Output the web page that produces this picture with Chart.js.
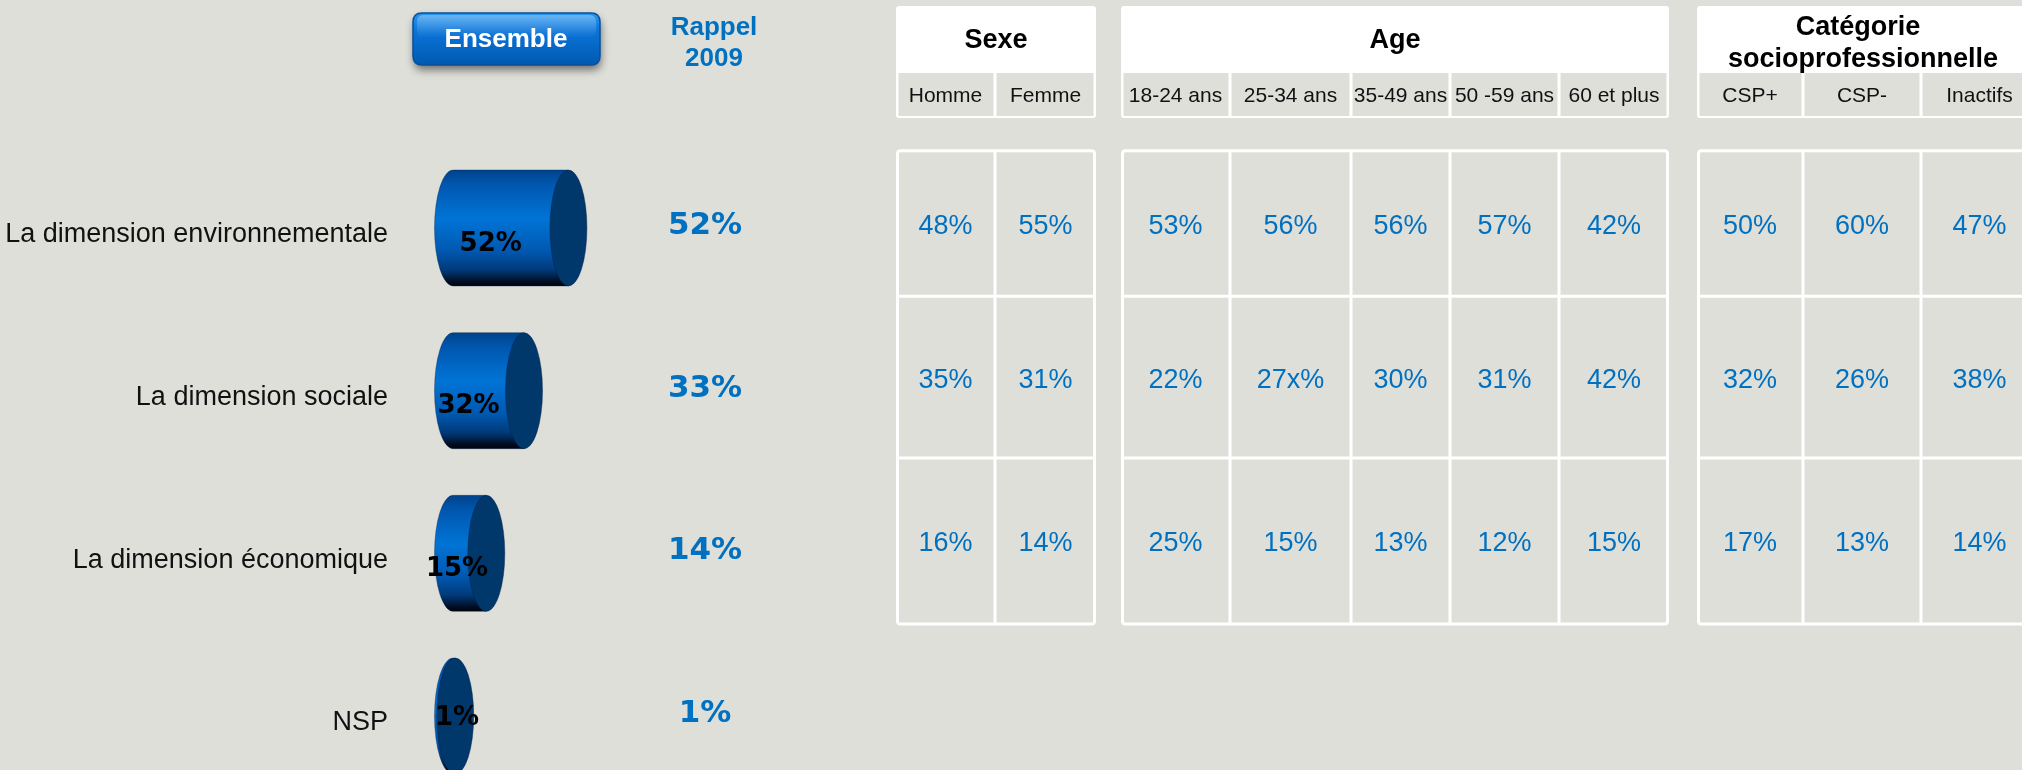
<!DOCTYPE html>
<html>
<head>
<meta charset="utf-8">
<script src="https://cdn.jsdelivr.net/npm/chart.js@4/dist/chart.umd.min.js"></script>
<style>
  html, body { margin: 0; padding: 0; background: #dfdfda; }
  #wrap { position: relative; width: 2022px; height: 770px; }
  canvas { display: block; }
</style>
</head>
<body>
<div id="wrap"><canvas id="c" width="2022" height="770"></canvas></div>
<script>
// ---------- DATA ----------
const categories = ['La dimension environnementale', 'La dimension sociale', 'La dimension économique', 'NSP'];
const ensemble = [52, 32, 15, 1];
const rappel2009 = [52, 33, 14, 1];

const sexeLabels = ['Homme', 'Femme'];
const homme = [48, 35, 16];
const femme = [55, 31, 14];

const ageLabels = ['18-24 ans', '25-34 ans', '35-49 ans', '50 -59 ans', '60 et plus'];
const age1824 = [53, 22, 25];
const age2534 = [56, '27x', 15];
const age3549 = [56, 30, 13];
const age5059 = [57, 31, 12];
const age60plus = [42, 42, 15];

const cspLabels = ['CSP+', 'CSP-', 'Inactifs'];
const cspPlus = [50, 32, 17];
const cspMinus = [60, 26, 13];
const inactifs = [47, 38, 14];

const groupTitles = [['Sexe'], ['Age'], ['Catégorie', 'socioprofessionnelle']];

// ---------- LAYOUT / STYLE ----------
const BG = '#dfdfda';
const BLUE = '#0070c0';
const groups = [
  { title: groupTitles[0], edges: [896, 995, 1096], labels: sexeLabels, cols: [homme, femme], titleX: 996 },
  { title: groupTitles[1], edges: [1121, 1230, 1351, 1450, 1559, 1669], labels: ageLabels,
    cols: [age1824, age2534, age3549, age5059, age60plus], titleX: 1395 },
  { title: groupTitles[2], edges: [1697, 1803, 1921, 2038], labels: cspLabels,
    cols: [cspPlus, cspMinus, inactifs], titleX: 1863 }
];

function rr(ctx, x, y, w, h, r) {
  ctx.beginPath();
  ctx.moveTo(x + r, y);
  ctx.lineTo(x + w - r, y);
  ctx.quadraticCurveTo(x + w, y, x + w, y + r);
  ctx.lineTo(x + w, y + h - r);
  ctx.quadraticCurveTo(x + w, y + h, x + w - r, y + h);
  ctx.lineTo(x + r, y + h);
  ctx.quadraticCurveTo(x, y + h, x, y + h - r);
  ctx.lineTo(x, y + r);
  ctx.quadraticCurveTo(x, y, x + r, y);
  ctx.closePath();
}

function drawCylinder(ctx, x0, x1, yc, h) {
  const rx = 18.5, ry = h / 2;
  const top = yc - ry, bot = yc + ry;
  const g = ctx.createLinearGradient(0, top, 0, bot);
  g.addColorStop(0, '#00428a');
  g.addColorStop(0.12, '#0056ae');
  g.addColorStop(0.42, '#0074d6');
  g.addColorStop(0.7, '#0058b0');
  g.addColorStop(0.86, '#003a7a');
  g.addColorStop(0.97, '#000a1c');
  g.addColorStop(1, '#000510');
  ctx.save();
  ctx.beginPath();
  ctx.moveTo(x1, top);
  ctx.lineTo(x0, top);
  ctx.ellipse(x0, yc, rx, ry, 0, -Math.PI / 2, Math.PI / 2, true);
  ctx.lineTo(x1, bot);
  ctx.closePath();
  ctx.fillStyle = g;
  ctx.fill();
  ctx.strokeStyle = 'rgba(0,30,70,0.35)';
  ctx.lineWidth = 1;
  ctx.stroke();
  ctx.beginPath();
  ctx.ellipse(x1, yc, rx, ry, 0, 0, Math.PI * 2);
  ctx.fillStyle = '#00386c';
  ctx.fill();
  ctx.strokeStyle = 'rgba(0,30,70,0.4)';
  ctx.stroke();
  ctx.restore();
}

const decorPlugin = {
  id: 'decor',
  beforeDraw(chart) {
    const ctx = chart.ctx;
    ctx.save();
    ctx.fillStyle = BG;
    ctx.fillRect(0, 0, chart.width, chart.height);
    ctx.restore();
  },
  afterDatasetsDraw(chart) {
    const ctx = chart.ctx;
    const meta = chart.getDatasetMeta(0);
    meta.data.forEach((bar) => {
      const p = bar.getProps(['x', 'y', 'base', 'height'], true);
      drawCylinder(ctx, p.base, p.x, p.y, p.height);
    });
    ctx.save();
    ctx.fillStyle = '#000';
    ctx.font = 'bold 26px "DejaVu Sans"';
    ctx.textAlign = 'center';
    ctx.textBaseline = 'middle';
    meta.data.forEach((bar, i) => {
      const p = bar.getProps(['x', 'y', 'base'], true);
      const len = p.x - p.base;
      const mid = (p.base + p.x) / 2;
      const lx = Math.max(mid - 20, p.base + 4);
      const ly = p.y + 16 * Math.min(1, len / 20);
      ctx.fillText(ensemble[i] + '%', lx, ly);
    });
    // Rappel 2009 column
    ctx.fillStyle = BLUE;
    ctx.font = 'bold 31px "DejaVu Sans"';
    meta.data.forEach((bar, i) => {
      ctx.fillText(rappel2009[i] + '%', 705, bar.y - 2);
    });
    ctx.restore();
  },
  afterDraw(chart) {
    const ctx = chart.ctx;
    const ys = chart.scales.y;
    ctx.save();

    // Ensemble button
    ctx.save();
    ctx.shadowColor = 'rgba(0,0,0,0.5)';
    ctx.shadowBlur = 8;
    ctx.shadowOffsetY = 5;
    ctx.shadowOffsetX = 1;
    const bg = ctx.createLinearGradient(0, 13, 0, 65);
    bg.addColorStop(0, '#2a98f2');
    bg.addColorStop(0.35, '#0a74d8');
    bg.addColorStop(1, '#0059b0');
    rr(ctx, 413, 13, 187, 52, 9);
    ctx.fillStyle = bg;
    ctx.fill();
    ctx.restore();
    rr(ctx, 413, 13, 187, 52, 9);
    ctx.strokeStyle = '#0a4f9a';
    ctx.lineWidth = 1.5;
    ctx.stroke();
    const gl = ctx.createLinearGradient(0, 15, 0, 38);
    gl.addColorStop(0, 'rgba(255,255,255,0.30)');
    gl.addColorStop(1, 'rgba(255,255,255,0)');
    rr(ctx, 417, 15, 179, 22, 7);
    ctx.fillStyle = gl;
    ctx.fill();
    ctx.fillStyle = '#ffffff';
    ctx.font = 'bold 26px "Liberation Sans"';
    ctx.textAlign = 'center';
    ctx.textBaseline = 'middle';
    ctx.fillText('Ensemble', 506, 40);

    // Rappel header
    ctx.fillStyle = BLUE;
    ctx.fillText('Rappel', 714, 28);
    ctx.fillText('2009', 714, 59);

    // Table rows from y scale
    const c = [0, 1, 2].map(i => ys.getPixelForValue(i));
    const step = c[1] - c[0];
    const rowEdges = [c[0] - 0.475 * step, (c[0] + c[1]) / 2 - 13, (c[1] + c[2]) / 2 - 14, c[2] + 0.435 * step];

    groups.forEach(gr => {
      const e = gr.edges;
      const x0 = e[0], x1 = e[e.length - 1];
      // header box
      rr(ctx, x0, 6, x1 - x0, 112, 3);
      ctx.fillStyle = '#ffffff';
      ctx.fill();
      for (let i = 0; i < e.length - 1; i++) {
        const l = e[i] + (i === 0 ? 2.5 : 1.5);
        const r = e[i + 1] - (i === e.length - 2 ? 2.5 : 1.5);
        ctx.fillStyle = BG;
        ctx.fillRect(l, 73, r - l, 43);
        ctx.fillStyle = '#111';
        ctx.font = '21px "Liberation Sans"';
        ctx.fillText(gr.labels[i], (e[i] + e[i + 1]) / 2, 96);
      }
      ctx.fillStyle = '#000';
      ctx.font = 'bold 27px "Liberation Sans"';
      if (gr.title.length === 1) {
        ctx.fillText(gr.title[0], gr.titleX, 41);
      } else {
        ctx.fillText(gr.title[0], gr.titleX - 5, 28);
        ctx.fillText(gr.title[1], gr.titleX, 60);
      }

      // data table box
      ctx.strokeStyle = '#ffffff';
      ctx.lineWidth = 3;
      rr(ctx, x0 + 1.5, rowEdges[0], x1 - x0 - 3, rowEdges[3] - rowEdges[0], 3);
      ctx.stroke();
      ctx.beginPath();
      for (let i = 1; i < e.length - 1; i++) {
        ctx.moveTo(e[i], rowEdges[0]);
        ctx.lineTo(e[i], rowEdges[3]);
      }
      for (let j = 1; j < 3; j++) {
        ctx.moveTo(x0 + 1.5, rowEdges[j]);
        ctx.lineTo(x1 - 1.5, rowEdges[j]);
      }
      ctx.stroke();

      ctx.fillStyle = BLUE;
      ctx.font = '27px "Liberation Sans"';
      gr.cols.forEach((col, i) => {
        const cx = (e[i] + e[i + 1]) / 2;
        col.forEach((v, j) => {
          const cy = (rowEdges[j] + rowEdges[j + 1]) / 2 + 3;
          ctx.fillText(v + '%', cx, cy);
        });
      });
    });
    ctx.restore();
  }
};

new Chart(document.getElementById('c'), {
  type: 'bar',
  data: {
    labels: categories,
    datasets: [{
      data: ensemble,
      backgroundColor: 'rgba(0,0,0,0)',
      borderWidth: 0,
      barThickness: 116
    }]
  },
  options: {
    responsive: false,
    animation: false,
    events: [],
    indexAxis: 'y',
    layout: { padding: { left: 0, top: 228, right: 1347, bottom: 54 } },
    plugins: { legend: { display: false }, tooltip: { enabled: false } },
    scales: {
      x: { type: 'linear', min: 0, max: 100, display: false },
      y: {
        type: 'category',
        offset: false,
        grid: { display: false, drawTicks: true, tickLength: 65 },
        border: { display: false },
        ticks: { padding: 0, labelOffset: 7, color: '#111', font: { family: 'Liberation Sans', size: 27 } },
        afterFit: (s) => { s.width = 453; }
      }
    }
  },
  plugins: [decorPlugin]
});
</script>
</body>
</html>
